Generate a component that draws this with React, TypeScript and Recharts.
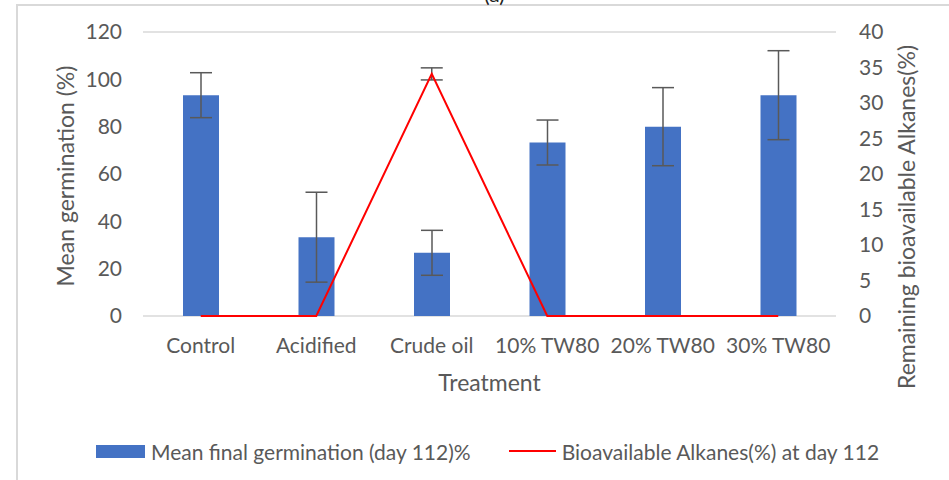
import { Bar, CartesianGrid, ComposedChart, ErrorBar, Legend, Line, XAxis, YAxis } from "recharts";

const treatments = ["Control", "Acidified", "Crude oil", "10% TW80", "20% TW80", "30% TW80"];
const germination = [93.3, 33.3, 26.7, 73.3, 80, 93.3];
const germinationErr = [9.5, 19, 9.5, 9.5, 16.5, 18.8];
const alkanes = [0, 0, 34.1, 0, 0, 0];
const alkanesErr = [0, 0, 0.85, 0, 0, 0];
const leftTicks = [0, 20, 40, 60, 80, 100, 120];
const rightTicks = [0, 5, 10, 15, 20, 25, 30, 35, 40];

const data = treatments.map((name, i) => ({
  name,
  germ: germination[i],
  germErr: germinationErr[i],
  alk: alkanes[i],
  alkErr: alkanesErr[i],
}));

const FONT = "Lato, 'Open Sans', sans-serif";
const TEXT = "#595959";

function LegendBox() {
  return (
    <div
      style={{
        height: 30,
        display: "flex",
        alignItems: "center",
        fontFamily: FONT,
        fontSize: 21,
        color: TEXT,
        paddingLeft: 96,
      }}
    >
      <span style={{ width: 49, height: 13, background: "#4472C4", display: "inline-block", marginRight: 6 }} />
      <span>Mean final germination (day 112)%</span>
      <span style={{ width: 47, height: 2, background: "#FF0000", display: "inline-block", marginLeft: 38, marginRight: 6 }} />
      <span>Bioavailable Alkanes(%) at day 112</span>
    </div>
  );
}

export default function App() {
  return (
    <div style={{ position: "absolute", left: 0, top: 0, width: 949, height: 480, overflow: "hidden", background: "#fff" }}>
      <div
        style={{
          position: "absolute",
          left: 16,
          top: 4,
          width: 960,
          height: 500,
          borderLeft: "2px solid #d9d9d9",
          borderTop: "2px solid #d9d9d9",
        }}
      />
      <div
        style={{
          position: "absolute",
          left: 0,
          width: 949,
          top: -19,
          textAlign: "center",
          fontFamily: FONT,
          fontSize: 21,
          color: "#222",
          paddingLeft: 20,
        }}
      >
        (a)
      </div>
      <ComposedChart
        width={949}
        height={480}
        data={data}
        margin={{ top: 32, right: 53, bottom: 54, left: 0 }}
        style={{ position: "absolute", left: 0, top: 0 }}
      >
        <CartesianGrid vertical={false} stroke="#d9d9d9" strokeWidth={1.5} />
        <XAxis
          dataKey="name"
          height={80}
          axisLine={false}
          tickLine={false}
          tickSize={0}
          tickMargin={22}
          tick={{ fill: TEXT, fontSize: 21, fontFamily: FONT }}
          interval={0}
          label={{ value: "Treatment", position: "insideBottom", offset: 5, fill: TEXT, fontSize: 23, fontFamily: FONT }}
        />
        <YAxis
          yAxisId="left"
          width={143}
          domain={[0, 120]}
          ticks={leftTicks}
          axisLine={false}
          tickLine={false}
          tickSize={0}
          tickMargin={21}
          tick={{ fill: TEXT, fontSize: 21, fontFamily: FONT }}
          label={{
            value: "Mean germination (%)",
            angle: -90,
            position: "center",
            dx: -6,
            dy: 2,
            fill: TEXT,
            fontSize: 23,
            fontFamily: FONT,
          }}
        />
        <YAxis
          yAxisId="right"
          orientation="right"
          width={60}
          domain={[0, 40]}
          ticks={rightTicks}
          axisLine={false}
          tickLine={false}
          tickSize={0}
          tickMargin={23}
          tick={{ fill: TEXT, fontSize: 21, fontFamily: FONT, textAnchor: "start" }}
          label={{
            value: "Remaining bioavailable Alkanes(%)",
            angle: -90,
            position: "center",
            dx: 41,
            dy: 43,
            fill: TEXT,
            fontSize: 23,
            fontFamily: FONT,
          }}
        />
        <Bar yAxisId="left" dataKey="germ" fill="#4472C4" barSize={36} isAnimationActive={false}>
          <ErrorBar dataKey="germErr" width={11} stroke="#595959" strokeWidth={1.5} />
        </Bar>
        <Line
          yAxisId="right"
          dataKey="alk"
          type="linear"
          stroke="#FF0000"
          strokeWidth={2}
          dot={false}
          activeDot={false}
          isAnimationActive={false}
        >
          <ErrorBar dataKey="alkErr" width={11} stroke="#595959" strokeWidth={1.5} />
        </Line>
        <Legend verticalAlign="bottom" wrapperStyle={{ bottom: 14, left: 0 }} content={() => <LegendBox />} />
      </ComposedChart>
    </div>
  );
}
